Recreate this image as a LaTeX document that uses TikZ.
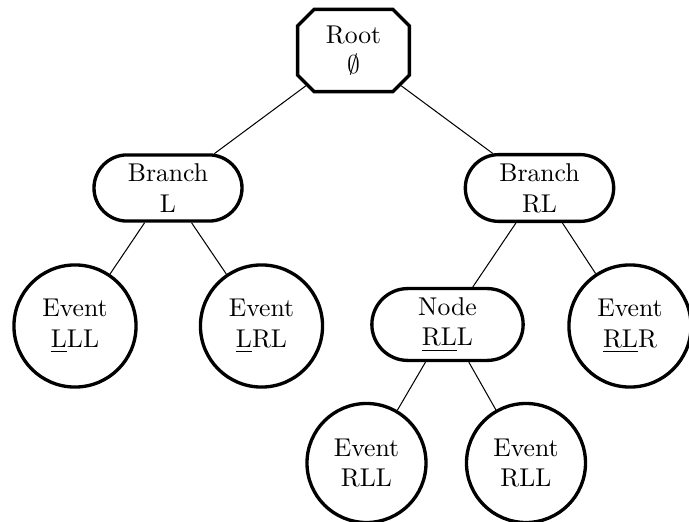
\documentclass[tikz,border=0pt]{standalone}
\usetikzlibrary{shapes.misc}
\begin{document}
\begin{tikzpicture}[x=0.3891pt,y=-0.3891pt,
  every node/.style={align=center, line width=1.3pt},
  rootbox/.style={draw, chamfered rectangle, chamfered rectangle xsep=3.2pt,
    chamfered rectangle ysep=3.2pt, minimum width=43.5pt, minimum height=32pt, inner sep=2pt},
  branchbox/.style={draw, rounded rectangle, inner xsep=9pt, inner ysep=3.4pt},
  nodebox/.style={branchbox, inner xsep=13.2pt},
  eventbox/.style={draw, circle, inner sep=5.2pt},
  link/.style={line width=0.4pt}]
\useasboundingbox (0,0) rectangle (689,522);
% nodes of the tree
\node[rootbox]   (root) at (353.5,50.5) {Root\\$\emptyset$};
\node[branchbox] (bl)   at (168,188)    {Branch\\L};
\node[branchbox] (brl)  at (539.5,188)  {Branch\\RL};
\node[eventbox]  (lll)  at (75,326)     {Event\\\underline{L}LL};
\node[eventbox]  (lrl)  at (261.5,326)  {Event\\\underline{L}RL};
\node[nodebox]   (rll)  at (447.5,324.5){Node\\\underline{RL}L};
\node[eventbox]  (rlr)  at (630,326)    {Event\\\underline{RL}R};
\node[eventbox]  (rlla) at (366.5,463)  {Event\\RLL};
\node[eventbox]  (rllb) at (526,463)    {Event\\RLL};
% edges
\draw[link] (root) -- (bl);
\draw[link] (root) -- (brl);
\draw[link] (bl) -- (lll);
\draw[link] (bl) -- (lrl);
\draw[link] (brl) -- (rll);
\draw[link] (brl) -- (rlr);
\draw[link] (rll) -- (rlla);
\draw[link] (rll) -- (rllb);
\end{tikzpicture}
\end{document}
